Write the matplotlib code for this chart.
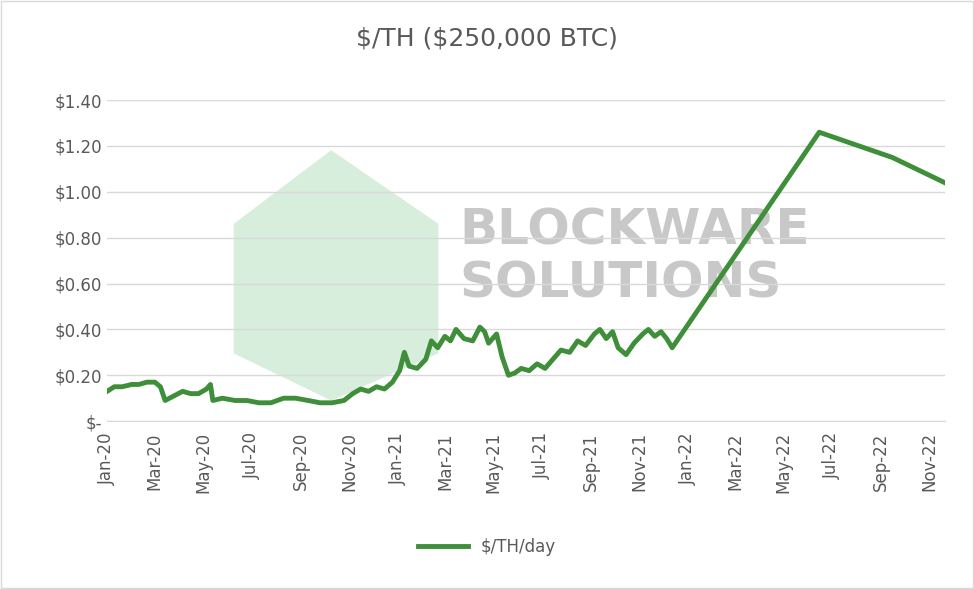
import numpy as np
import pandas as pd
import matplotlib.pyplot as plt
import matplotlib.dates as mdates
from matplotlib.patches import Polygon

# values
dates = ["2020-01-01", "2020-01-10", "2020-01-20", "2020-02-01", "2020-02-10", "2020-02-20",
         "2020-03-01", "2020-03-08", "2020-03-14", "2020-03-25", "2020-04-05", "2020-04-15",
         "2020-04-25", "2020-05-05", "2020-05-10", "2020-05-13", "2020-05-25", "2020-06-10",
         "2020-06-25", "2020-07-10", "2020-07-25", "2020-08-10", "2020-08-25", "2020-09-10",
         "2020-09-25", "2020-10-10", "2020-10-25", "2020-11-05", "2020-11-15", "2020-11-25",
         "2020-12-05", "2020-12-15", "2020-12-25", "2021-01-03", "2021-01-09", "2021-01-15",
         "2021-01-25", "2021-02-05", "2021-02-12", "2021-02-20", "2021-03-01", "2021-03-08",
         "2021-03-15", "2021-03-25", "2021-04-05", "2021-04-14", "2021-04-20", "2021-04-25",
         "2021-05-05", "2021-05-12", "2021-05-20", "2021-05-28", "2021-06-05", "2021-06-15",
         "2021-06-25", "2021-07-05", "2021-07-15", "2021-07-25", "2021-08-05", "2021-08-15",
         "2021-08-25", "2021-09-05", "2021-09-12", "2021-09-20", "2021-09-28", "2021-10-05",
         "2021-10-15", "2021-10-25", "2021-11-05", "2021-11-12", "2021-11-20", "2021-11-28",
         "2021-12-05", "2021-12-12", "2022-06-15", "2022-09-15", "2022-11-20"]
values = [0.13, 0.15, 0.15, 0.16, 0.16, 0.17, 0.17, 0.15, 0.09, 0.11, 0.13, 0.12,
          0.12, 0.14, 0.16, 0.09, 0.10, 0.09, 0.09, 0.08, 0.08, 0.10, 0.10, 0.09,
          0.08, 0.08, 0.09, 0.12, 0.14, 0.13, 0.15, 0.14, 0.17, 0.22, 0.30, 0.24,
          0.23, 0.27, 0.35, 0.32, 0.37, 0.35, 0.40, 0.36, 0.35, 0.41, 0.39, 0.34,
          0.38, 0.28, 0.20, 0.21, 0.23, 0.22, 0.25, 0.23, 0.27, 0.31, 0.30, 0.35,
          0.33, 0.38, 0.40, 0.36, 0.39, 0.32, 0.29, 0.34, 0.38, 0.40, 0.37, 0.39,
          0.36, 0.32, 1.26, 1.15, 1.04]
series_name = "$/TH/day"
title = r"\$/TH (\$250,000 BTC)"

x = pd.to_datetime(dates)

fig = plt.figure(figsize=(9.74, 5.89), dpi=100)
ax = fig.add_axes([0.11, 0.285, 0.86, 0.545])

# watermark, kept behind the axes
fig.text(0.472, 0.585, "BLOCKWARE", fontsize=36, fontweight="bold", color="#c8c8c8",
         family="DejaVu Sans", zorder=-2)
fig.text(0.472, 0.495, "SOLUTIONS", fontsize=36, fontweight="bold", color="#c8c8c8",
         family="DejaVu Sans", zorder=-2)
hexagon = Polygon([[0.24, 0.62], [0.34, 0.745], [0.45, 0.62], [0.45, 0.40],
                   [0.34, 0.32], [0.24, 0.40]], closed=True, transform=fig.transFigure,
                  facecolor="#d6eedb", edgecolor="none", zorder=-2)
fig.patches.append(hexagon)

ax.plot(x, values, color="#3f8f3a", lw=3.5, label=series_name, zorder=3)

ax.set_xlim(pd.Timestamp("2020-01-01"), pd.Timestamp("2022-11-20"))
ax.set_ylim(0, 1.4)
ax.set_yticks(np.arange(0, 1.41, 0.2))
ax.set_yticklabels(["$-"] + ["${:.2f}".format(v) for v in np.arange(0.2, 1.41, 0.2)])
ax.xaxis.set_major_locator(mdates.MonthLocator(bymonth=[1, 3, 5, 7, 9, 11]))
ax.xaxis.set_major_formatter(mdates.DateFormatter("%b-%y"))
plt.setp(ax.get_xticklabels(), rotation=90)
ax.tick_params(axis="both", labelsize=12, colors="#595959", length=0)
ax.tick_params(axis="x", pad=8)
ax.grid(axis="y", color="#d9d9d9", lw=1)
ax.set_axisbelow(True)
for s in ["top", "right", "left"]:
    ax.spines[s].set_visible(False)
ax.spines["bottom"].set_color("#d9d9d9")
ax.patch.set_alpha(0)

fig.suptitle(title, y=0.955, fontsize=18, color="#595959")
fig.legend(loc="lower center", bbox_to_anchor=(0.5, 0.03), frameon=False, fontsize=12,
           labelcolor="#595959", handlelength=3)

fig.patches.append(plt.Rectangle((0.001, 0.001), 0.998, 0.998, transform=fig.transFigure,
                                 fill=False, edgecolor="#d9d9d9", lw=1))

fig.savefig("out.png")
